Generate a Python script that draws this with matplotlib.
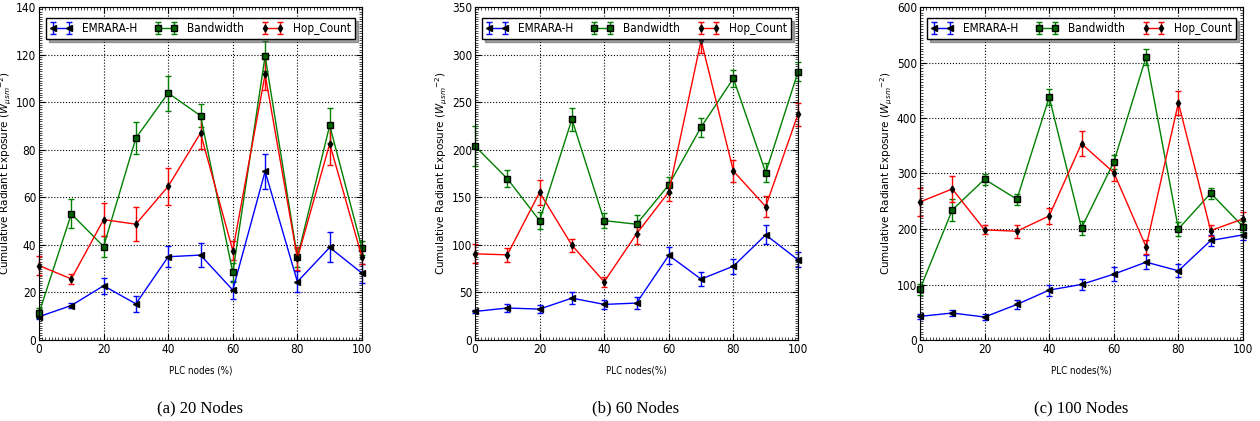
import matplotlib
matplotlib.use("Agg")
import matplotlib.pyplot as plt
from matplotlib.ticker import MultipleLocator
from matplotlib.font_manager import FontProperties

x = [0, 10, 20, 30, 40, 50, 60, 70, 80, 90, 100]

# Panel (a) 20 nodes
a_emr = [9.8, 14.5, 22.8, 15.2, 35.0, 35.7, 21.0, 70.9, 24.5, 38.9, 28.1]
a_emr_err = [1.0, 1.2, 3.3, 3.4, 4.5, 5.0, 3.6, 7.5, 4.5, 6.3, 4.0]
a_bw = [11.3, 53.0, 39.3, 84.9, 103.8, 94.3, 28.4, 119.4, 34.7, 90.2, 38.6]
a_bw_err = [2.0, 6.1, 4.6, 6.8, 7.4, 4.8, 4.0, 6.4, 4.0, 7.5, 3.0]
a_hop = [31.3, 25.7, 50.6, 48.7, 64.6, 87.0, 37.6, 111.7, 34.3, 82.5, 34.8]
a_hop_err = [4.0, 2.2, 6.9, 7.1, 7.9, 6.8, 4.0, 6.6, 5.0, 8.8, 3.0]

# Panel (b) 60 nodes
b_emr = [30.0, 33.6, 32.5, 44.0, 37.4, 38.8, 89.0, 64.0, 77.6, 110.5, 84.3]
b_emr_err = [2, 4, 4, 6, 5, 6, 9, 7, 8, 10, 8]
b_bw = [203.8, 169.6, 125.5, 232.0, 125.5, 121.7, 163.0, 223.8, 275.0, 176.0, 281.8]
b_bw_err = [21, 9, 9, 12, 8, 10, 8, 10, 9, 10, 10]
b_hop = [90.6, 89.5, 155.2, 99.6, 61.2, 111.5, 155.6, 315.0, 177.6, 140.2, 237.4]
b_hop_err = [10, 7, 13, 7, 5, 11, 10, 13, 12, 11, 12]

# Panel (c) 100 nodes
c_emr = [42.6, 48.6, 41.4, 64.1, 89.9, 100.1, 118.7, 140.3, 124.7, 179.3, 189.4]
c_emr_err = [5, 6, 6, 8, 10, 10, 12, 13, 12, 10, 10]
c_bw = [91.7, 234.4, 289.6, 253.6, 437.6, 202.0, 320.7, 510.2, 200.2, 264.4, 204.4]
c_bw_err = [10, 20, 10, 10, 15, 13, 13, 15, 12, 10, 10]
c_hop = [248.8, 272.2, 198.4, 196.0, 223.6, 353.7, 301.6, 167.9, 427.5, 197.2, 218.2]
c_hop_err = [25, 23, 8, 12, 15, 23, 15, 13, 22, 10, 12]

series_names = ["EMRARA-H", "Bandwidth", "Hop_Count"]
captions = ["(a) 20 Nodes", "(b) 60 Nodes", "(c) 100 Nodes"]
xlabels = ["PLC nodes (%)", "PLC nodes(%)", "PLC nodes(%)"]
ylims = [140, 350, 600]
ysteps = [20, 50, 100]
yminor = [1, 2.5, 5]

panels = [
    [(a_emr, a_emr_err), (a_bw, a_bw_err), (a_hop, a_hop_err)],
    [(b_emr, b_emr_err), (b_bw, b_bw_err), (b_hop, b_hop_err)],
    [(c_emr, c_emr_err), (c_bw, c_bw_err), (c_hop, c_hop_err)],
]

styles = [
    dict(color="blue", marker="<", mfc="black", mec="black", ms=4),
    dict(color="green", marker="s", mfc="#006400", mec="black", ms=5),
    dict(color="red", marker="d", mfc="black", mec="black", ms=3.5),
]

cond = dict(family="DejaVu Sans", stretch="condensed")

fig = plt.figure(figsize=(12.6, 4.21), dpi=100)
lefts = [39, 475, 920]
W, H = 1260, 421
for i in range(3):
    ax = fig.add_axes([lefts[i] / W, (H - 340) / H, 323 / W, 333 / H])
    for (vals, errs), name, st in zip(panels[i], series_names, styles):
        ax.errorbar(x, vals, yerr=errs, label=name, lw=1, capsize=2.5,
                    capthick=1, elinewidth=1, clip_on=False, **st)
    ax.set_xlim(0, 100)
    ax.set_ylim(0, ylims[i])
    ax.xaxis.set_major_locator(MultipleLocator(20))
    ax.xaxis.set_minor_locator(MultipleLocator(1))
    ax.yaxis.set_major_locator(MultipleLocator(ysteps[i]))
    ax.yaxis.set_minor_locator(MultipleLocator(yminor[i]))
    ax.tick_params(which="both", direction="in", top=True, right=True,
                   labelsize=8.5, pad=2)
    for lab in ax.get_xticklabels() + ax.get_yticklabels():
        lab.set_fontstretch("condensed")
    ax.tick_params(which="major", length=4)
    ax.tick_params(which="minor", length=2, width=0.5)
    ax.grid(True, which="major", color="black", linestyle=":", lw=0.8)
    ax.set_xlabel(xlabels[i], fontsize=7, labelpad=7, fontstretch="condensed")
    ax.set_ylabel("Cumulative Radiant Exposure ($W_{\\mu sm}{}^{-2}$)",
                  fontsize=7.5)
    ax.yaxis.set_label_coords(-25 / 323, 0.5)
    leg = ax.legend(loc="upper center", ncol=3, shadow=True,
                    fancybox=False, frameon=True, borderpad=0.35,
                    handletextpad=0.8, columnspacing=1.5, numpoints=2,
                    handlelength=1.9,
                    prop=FontProperties(size=8.5, **cond),
                    bbox_to_anchor=(0.5, 0.985))
    leg.get_frame().set_edgecolor("black")
    leg.get_frame().set_linewidth(1)
    fig.text((lefts[i] + 161) / W, 1 - 408 / H, captions[i],
             ha="center", va="center", fontsize=12, family="Liberation Serif")

fig.savefig("out.png", dpi=100)
